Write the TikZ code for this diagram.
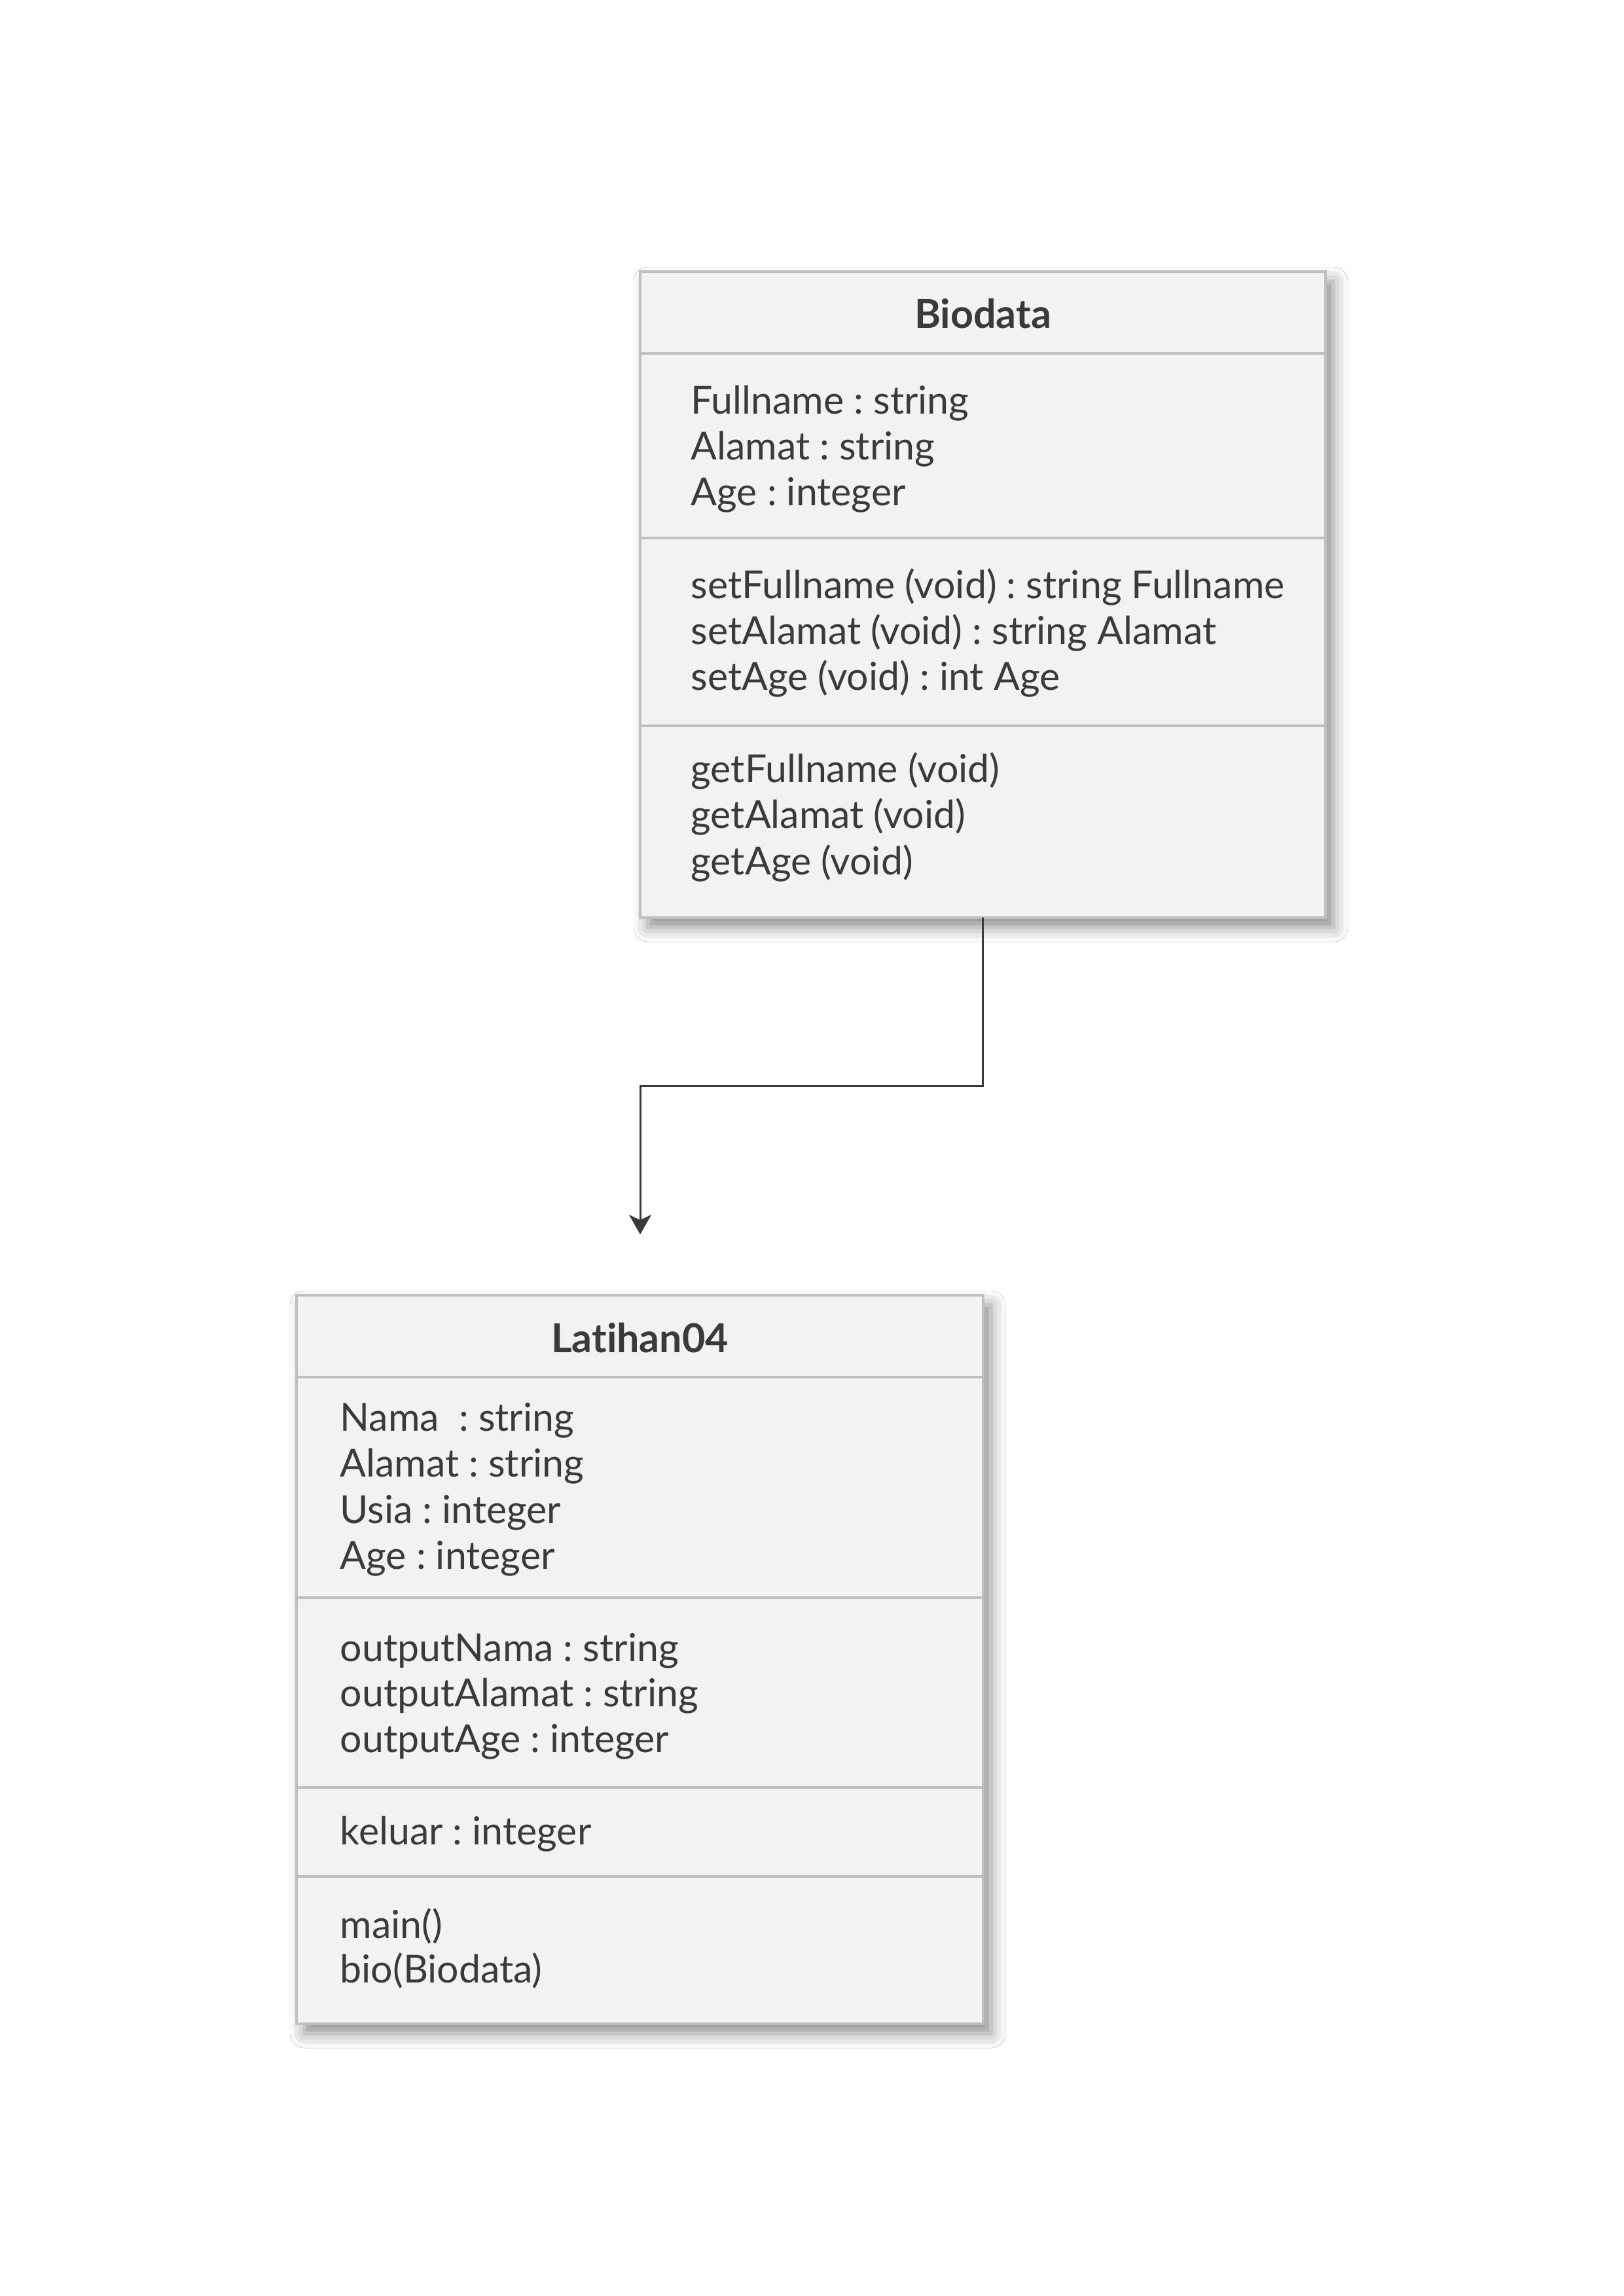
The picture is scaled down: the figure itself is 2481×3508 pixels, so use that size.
\documentclass[tikz,border=0pt]{standalone}
\usepackage{fontspec}
\setmainfont{Lato}[Ligatures=CommonOff]
\usetikzlibrary{arrows.meta,shadows.blur}
\definecolor{boxfill}{HTML}{F2F2F2}
\definecolor{boxline}{HTML}{BFBFBF}
\definecolor{ink}{HTML}{3A3A3C}
\frenchspacing
\begin{document}
\begin{tikzpicture}[x=0.1mm,y=-0.1mm,
  classbox/.style={draw=boxline, line width=0.4mm, fill=boxfill, inner sep=0pt, outer sep=0pt, anchor=north west,
    blur shadow={shadow xshift=1.2mm, shadow yshift=-1.5mm, shadow blur radius=2.2mm, shadow opacity=45}},
  divider/.style={draw=boxline, line width=0.4mm},
  classtitle/.style={font=\fontsize{6.1mm}{7mm}\selectfont\bfseries, text=ink, anchor=base, inner sep=0pt},
  member/.style={font=\fontsize{5.9mm}{7mm}\selectfont, text=ink, anchor=base west, inner sep=0pt},
  link/.style={draw=ink, line width=0.3mm, -{Stealth[length=3mm,width=3.4mm,inset=0.8mm]}}]
\path[fill=white] (0,0) rectangle (2481,3508);
\useasboundingbox (0,0) rectangle (2481,3508);

% Biodata class
\node[classbox, minimum width=104.7mm, minimum height=98.7mm] (bio) at (978,415) {};
\draw[divider] (bio.west |- 0,540) -- (bio.east |- 0,540);
\draw[divider] (bio.west |- 0,822) -- (bio.east |- 0,822);
\draw[divider] (bio.west |- 0,1109) -- (bio.east |- 0,1109);
\node[classtitle] (biot) at (1501.5,502) {Biodata};
\node[member] (ba1) at (1055,633) {Fullname : string};
\node[member] (ba2) at (1055,703) {Alamat : string};
\node[member] (ba3) at (1055,773) {Age : integer};
\node[member] (bm1) at (1055,914) {setFullname (void) : string Fullname};
\node[member] (bm2) at (1055,984) {setAlamat (void) : string Alamat};
\node[member] (bm3) at (1055,1054) {setAge (void) : int Age};
\node[member] (bg1) at (1055,1195) {getFullname (void)};
\node[member] (bg2) at (1055,1265) {getAlamat (void)};
\node[member] (bg3) at (1055,1336) {getAge (void)};

% Latihan04 class
\node[classbox, minimum width=104.9mm, minimum height=111.3mm] (lat) at (453,1979) {};
\draw[divider] (lat.west |- 0,2104) -- (lat.east |- 0,2104);
\draw[divider] (lat.west |- 0,2441) -- (lat.east |- 0,2441);
\draw[divider] (lat.west |- 0,2731) -- (lat.east |- 0,2731);
\draw[divider] (lat.west |- 0,2867) -- (lat.east |- 0,2867);
\node[classtitle] (latt) at (977.5,2066) {Latihan04};
\node[member] (la1) at (519,2186) {Nama\ \ : string};
\node[member] (la2) at (519,2256) {Alamat : string};
\node[member] (la3) at (519,2327) {Usia : integer};
\node[member] (la4) at (519,2397) {Age : integer};
\node[member] (lo1) at (519,2538) {outputNama : string};
\node[member] (lo2) at (519,2607) {outputAlamat : string};
\node[member] (lo3) at (519,2677) {outputAge : integer};
\node[member] (lk1) at (519,2818) {keluar : integer};
\node[member] (lm1) at (519,2961) {main()};
\node[member] (lm2) at (519,3029) {bio(Biodata)};

% connector
\coordinate (tip) at (978,1886);
\draw[link] (bio.south) -- ++(0,257) -| (tip);
\end{tikzpicture}
\end{document}
